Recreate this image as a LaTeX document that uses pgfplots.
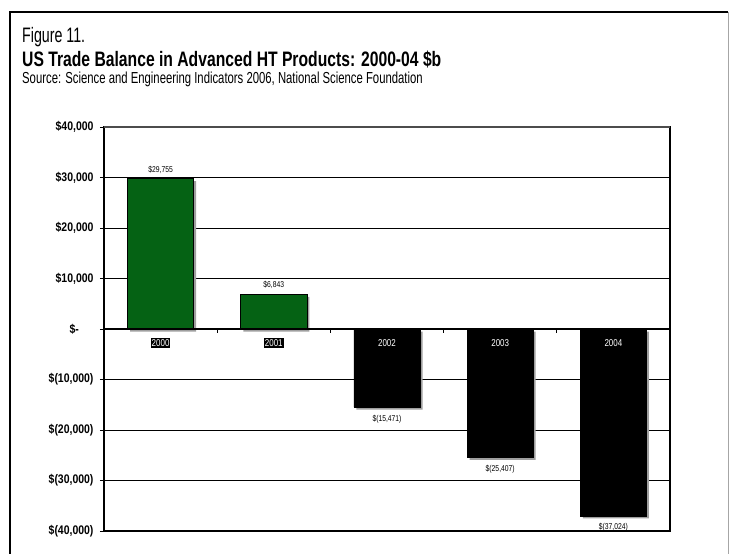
\documentclass[border=0pt]{standalone}
\usepackage{fontspec}
\setmainfont{Liberation Sans}
\newfontfamily\narrow[FakeStretch=0.8]{Liberation Sans}
\newfontfamily\narrowa[FakeStretch=0.68]{Liberation Sans}
\newfontfamily\narrowb[FakeStretch=0.75]{Liberation Sans}
\newfontfamily\narrowc[FakeStretch=0.71]{Liberation Sans}
\newfontfamily\narrowt[FakeStretch=0.84]{Liberation Sans}
\usepackage{pgfplots}
\pgfplotsset{compat=1.18}
\definecolor{bargreen}{RGB}{5,98,20}
\begin{document}
\begin{tikzpicture}
\useasboundingbox (0,0) rectangle (730bp,554bp);
% outer frame
\draw[line width=1.2bp] (10bp,-5bp) -- (10bp,542bp) -- (728bp,542bp);
\draw[gray!70,line width=0.8bp] (728bp,542bp) -- (728bp,-5bp);
% titles
\node[anchor=base west,inner sep=0] at (22bp,511bp) {\narrowa\fontsize{21}{24}\selectfont Figure 11.};
\node[anchor=base west,inner sep=0] at (22bp,487bp) {\narrowb\bfseries\fontsize{21}{24}\selectfont US Trade Balance in Advanced HT Products: 2000-04 \$b};
\node[anchor=base west,inner sep=0] at (22bp,470bp) {\narrowc\fontsize{16}{18}\selectfont Source: Science and Engineering Indicators 2006, National Science Foundation};
\begin{axis}[
  at={(104bp,23bp)}, anchor=south west,
  width=566bp, height=404bp, scale only axis,
  xmin=-0.5, xmax=4.5, ymin=-40000, ymax=40000,
  axis line style={line width=1.5bp},
  scaled y ticks=false,
  ytick pos=left,
  ytick={-40000,-30000,...,40000},
  yticklabels={\$(40{,}000),\$(30{,}000),\$(20{,}000),\$(10{,}000),\$-\ \ \ \ \ \ ,\$10{,}000,\$20{,}000,\$30{,}000,\$40{,}000},
  yticklabel style={font=\narrowt\bfseries\fontsize{12.5}{13}\selectfont, xshift=-3bp},
  /pgf/number format/assume math mode=true,
  ymajorgrids, major grid style={black, line width=0.7bp},
  ytick style={black, line width=0.8bp},
  major tick length=4bp,
  tick align=outside,
  xtick=\empty,
  clip=false,
  every node near coord/.append style={font=\narrow\fontsize{8.5}{9}\selectfont, black},
]
\addplot[ybar, bar width=66bp, bar shift=0pt, fill=bargreen, draw=black, line width=0.6bp,
  preaction={fill=gray!75, draw=none, transform canvas={xshift=2.5bp,yshift=-2.5bp}},
  nodes near coords={\$\pgfmathprintnumber[1000 sep={,}]{\pgfplotspointmeta}},
  nodes near coords style={anchor=south, yshift=2bp}]
  coordinates {(0,29755) (1,6843)};
\addplot[ybar, bar width=66bp, bar shift=0pt, fill=black, draw=black, line width=0.6bp,
  preaction={fill=gray!75, draw=none, transform canvas={xshift=2.5bp,yshift=-2.5bp}},
  point meta=-y,
  nodes near coords={\$(\pgfmathprintnumber[1000 sep={,}]{\pgfplotspointmeta})},
  nodes near coords style={anchor=north, yshift=-4bp}]
  coordinates {(2,-15471) (3,-25407) (4,-37024)};
\draw[gray!60!black, line width=1.5bp] (axis cs:-0.5,40000) -- (axis cs:4.5,40000);
\draw[line width=2bp] (axis cs:-0.5,0) -- (axis cs:4.5,0);
\pgfplotsinvokeforeach{0.5,1.5,2.5,3.5}{\draw[line width=1.2bp] (axis cs:#1,0) -- ([yshift=-4bp]axis cs:#1,0);}
\node[fill=black, text=white, inner sep=1bp, font=\narrow\fontsize{10}{11}\selectfont] at ([yshift=-14bp]axis cs:0,0) {2000};
\node[fill=black, text=white, inner sep=1bp, font=\narrow\fontsize{10}{11}\selectfont] at ([yshift=-14bp]axis cs:1,0) {2001};
\node[fill=black, text=white, inner sep=1bp, font=\narrow\fontsize{10}{11}\selectfont] at ([yshift=-14bp]axis cs:2,0) {2002};
\node[fill=black, text=white, inner sep=1bp, font=\narrow\fontsize{10}{11}\selectfont] at ([yshift=-14bp]axis cs:3,0) {2003};
\node[fill=black, text=white, inner sep=1bp, font=\narrow\fontsize{10}{11}\selectfont] at ([yshift=-14bp]axis cs:4,0) {2004};
\end{axis}
\end{tikzpicture}
\end{document}
